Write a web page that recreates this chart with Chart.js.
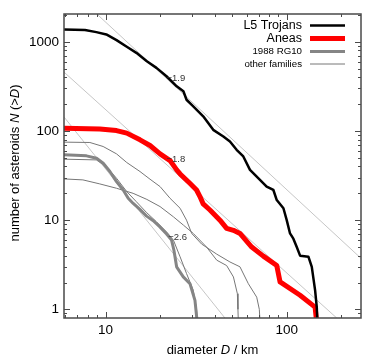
<!DOCTYPE html>
<html>
<head>
<meta charset="utf-8">
<script src="https://cdn.jsdelivr.net/npm/chart.js@4/dist/chart.umd.min.js"></script>
<style>
  html, body { margin: 0; padding: 0; background: #fff; }
  #wrap { width: 382px; height: 356px; }
</style>
</head>
<body>
<div id="wrap"><canvas id="sfdChart" width="382" height="356"></canvas></div>
<script>
// cumulative size distributions N(>D), diameters in km
const l5Diam = [5.9, 7.7, 8.9, 10.1, 11.5, 13.1, 14.8, 16.9, 19.1, 21.7, 24.7, 26.9, 28.0, 30.5, 34.6, 39.3, 44.7, 48.6, 52.9, 57.6, 62.7, 68.3, 77.5, 84.4, 88.1, 95.9, 100, 104.3, 108.8, 113.6, 118.5, 131.7, 137.5, 143.4, 146.5, 147.7];
const l5Count = [1377, 1353, 1284, 1210, 1044, 879, 752, 606, 510, 411, 317, 279, 224, 189, 146, 103, 86.8, 76.3, 61.5, 51.8, 36.6, 30.8, 23.8, 21.8, 16.8, 13.6, 10, 7.1, 6.2, 5.0, 4.0, 3.9, 3.0, 1.64, 1.06, 0.7];

const aneasDiam = [5.9, 9.3, 11.5, 13.1, 15.5, 17.6, 20.0, 22.7, 24.7, 25.8, 29.2, 31.8, 33.2, 34.6, 37.7, 42.8, 46.6, 50.8, 55.2, 64.1, 74.3, 88.1, 91.9, 118.5, 143.4, 146.5];
const aneasCount = [107, 105, 101, 94.6, 79.6, 68.8, 55.4, 46.6, 36.6, 33.0, 25.9, 21.8, 18.4, 15.2, 13.0, 10.0, 8.1, 7.7, 7.1, 5.0, 3.95, 3.1, 2.03, 1.44, 1.06, 0.7];

const rgDiam = [5.9, 7.85, 8.92, 9.71, 10.57, 11.5, 12.52, 13.34, 14.22, 15.48, 16.85, 18.34, 19.96, 21.73, 23.15, 23.85, 24.68, 26.86, 29.24, 31.16, 32.1];
const rgCount = [54.0, 52.6, 49.5, 43.5, 35.1, 27.1, 21.8, 17.6, 15.4, 13.2, 11.1, 9.85, 8.4, 7.0, 5.97, 4.6, 3.0, 2.31, 1.94, 1.26, 0.7];

const famADiam = [5.9, 8.2, 9.7, 11.5, 13.1, 15.5, 17.6, 20.0, 22.7, 25.8, 28.0, 29.9, 33.9, 41.1, 48.6, 55.2, 61.4, 68.3, 70.6, 71.3];
const famACount = [75, 74.3, 67, 55.4, 44.3, 35.1, 28.8, 23.8, 17.6, 13.6, 10.0, 7.1, 5.4, 4.16, 3.4, 3.0, 1.94, 1.37, 1.0, 0.7];
const famBDiam = [5.9, 8.9, 10.1, 11.5, 13.1, 14.8, 16.9, 19.1, 21.7, 23.7, 25.8, 28.0, 30.5, 31.8, 32.1];
const famBCount = [48.3, 47.4, 39.9, 29.5, 20.9, 16.1, 12.1, 9.6, 7.4, 5.97, 3.88, 2.52, 1.64, 1.0, 0.7];
const famCDiam = [5.9, 7.5, 9.3, 11.5, 14.2, 16.9, 20.0, 23.7, 26.9, 30.5, 36.1, 41.1, 46.6, 50.8, 53.4, 53.8, 54.1];
const famCCount = [29, 28.3, 25.5, 22.8, 20.0, 17.1, 14.2, 10.9, 8.8, 7.1, 5.0, 3.56, 3.1, 2.31, 1.5, 1.0, 0.7];

// power-law reference lines (end points) and their slope labels
const fit19Diam = [8.92, 257.5], fit19Count = [2065, 3.72];
const fit18Diam = [5.91, 188.8], fit18Count = [456, 0.8];
const fit26Diam = [5.91, 45.6], fit26Count = [143, 0.8];
const slopeLabels = ['\u22121.9', '\u22121.8', '\u22122.6'];
const slopeLabelDiam = [21.7, 21.7, 22.2];
const slopeLabelCount = [394, 47.5, 6.35];

// axes
const xMin = 5.9, xMax = 257;
const yMin = 0.8, yMax = 2050;
const xTickLabels = [10, 100];
const xMinorTicks = [6, 7, 8, 9, 20, 30, 40, 50, 60, 70, 80, 90, 200];
const yTickLabels = [1, 10, 100, 1000];
const yMinorTicks = [0.9, 2, 3, 4, 5, 6, 7, 8, 9, 20, 30, 40, 50, 60, 70, 80, 90, 200, 300, 400, 500, 600, 700, 800, 900, 2000];

const FONT = "'Liberation Sans', Arial, sans-serif";
Chart.defaults.font.family = FONT;
Chart.defaults.color = '#000';

function pts(d, n) {
    return d.map((v, i) => ({ x: v, y: n[i] }));
}

function line(label, d, n, color, width, inLegend) {
    return {
        label: label,
        data: pts(d, n),
        showLine: true,
        borderColor: color,
        borderWidth: width,
        pointRadius: 0,
        tension: 0,
        borderJoinStyle: 'round',
        clip: 0,
        inLegend: inLegend
    };
}

// draws text made of plain and italic pieces, centred on the origin
function richText(ctx, parts, size) {
    let total = 0;
    const widths = parts.map(p => {
        ctx.font = (p[1] ? 'italic ' : '') + size + 'px ' + FONT;
        const w = ctx.measureText(p[0]).width;
        total += w;
        return w;
    });
    let cx = -total / 2;
    parts.forEach((p, i) => {
        ctx.font = (p[1] ? 'italic ' : '') + size + 'px ' + FONT;
        ctx.fillText(p[0], cx, 0);
        cx += widths[i];
    });
}

const frameAndLabels = {
    id: 'frameAndLabels',
    afterDraw(chart) {
        const ctx = chart.ctx;
        const a = chart.chartArea;
        const xs = chart.scales.x, ys = chart.scales.y;
        ctx.save();

        // border
        ctx.strokeStyle = '#4a4a4a';
        ctx.lineWidth = 1.5;
        ctx.strokeRect(a.left, a.top, a.right - a.left, a.bottom - a.top);

        // inward tick marks on all four sides
        ctx.lineWidth = 1;
        ctx.beginPath();
        const xt = (v, len) => {
            const px = Math.round(xs.getPixelForValue(v)) + 0.5;
            ctx.moveTo(px, a.bottom); ctx.lineTo(px, a.bottom - len);
            ctx.moveTo(px, a.top); ctx.lineTo(px, a.top + len);
        };
        const yt = (v, len) => {
            const py = Math.round(ys.getPixelForValue(v)) + 0.5;
            ctx.moveTo(a.left, py); ctx.lineTo(a.left + len, py);
            ctx.moveTo(a.right, py); ctx.lineTo(a.right - len, py);
        };
        xTickLabels.forEach(v => xt(v, 6));
        xMinorTicks.forEach(v => xt(v, 3));
        yTickLabels.forEach(v => yt(v, 6));
        yMinorTicks.forEach(v => yt(v, 3));
        ctx.stroke();

        // slope labels next to the power-law lines
        ctx.fillStyle = '#333';
        ctx.font = '9.5px ' + FONT;
        ctx.textAlign = 'left';
        ctx.textBaseline = 'middle';
        slopeLabels.forEach((t, i) => {
            ctx.fillText(t, xs.getPixelForValue(slopeLabelDiam[i]), ys.getPixelForValue(slopeLabelCount[i]));
        });

        // legend, top right inside the frame
        const rows = chart.data.datasets.filter(ds => ds.inLegend);
        const rowY = [11.5, 24.5, 37.5, 50];
        const rowSize = [12.5, 12.5, 9.7, 9.7];
        ctx.textAlign = 'right';
        rows.forEach((ds, i) => {
            const y = a.top + rowY[i];
            ctx.fillStyle = '#000';
            ctx.font = rowSize[i] + 'px ' + FONT;
            ctx.fillText(ds.label, a.right - 59, y);
            ctx.strokeStyle = ds.borderColor;
            ctx.lineWidth = ds.borderWidth;
            ctx.beginPath();
            ctx.moveTo(a.right - 51, y);
            ctx.lineTo(a.right - 16, y);
            ctx.stroke();
        });

        // axis titles with italic symbols
        ctx.fillStyle = '#000';
        ctx.textAlign = 'left';
        ctx.textBaseline = 'middle';
        ctx.save();
        ctx.translate((a.left + a.right) / 2, a.bottom + 32);
        richText(ctx, [['diameter ', false], ['D', true], [' / km', false]], 13);
        ctx.restore();
        ctx.save();
        ctx.translate(15, (a.top + a.bottom) / 2 - 3);
        ctx.rotate(-Math.PI / 2);
        richText(ctx, [['number of asteroids ', false], ['N', true], [' (>', false], ['D', true], [')', false]], 13);
        ctx.restore();

        ctx.restore();
    }
};

const ctx = document.getElementById('sfdChart').getContext('2d');
const chart = new Chart(ctx, {
    type: 'scatter',
    data: {
        datasets: [
            line('L5 Trojans', l5Diam, l5Count, '#000000', 2.5, true),
            line('Aneas', aneasDiam, aneasCount, '#ff0000', 5, true),
            line('1988 RG10', rgDiam, rgCount, '#858585', 3, true),
            line('other families', famADiam, famACount, '#777777', 1, true),
            line('', famBDiam, famBCount, '#777777', 1, false),
            line('', famCDiam, famCCount, '#777777', 1, false),
            line('', fit19Diam, fit19Count, '#c6c6c6', 1, false),
            line('', fit18Diam, fit18Count, '#c6c6c6', 1, false),
            line('', fit26Diam, fit26Count, '#c6c6c6', 1, false)
        ]
    },
    options: {
        responsive: false,
        animation: false,
        events: [],
        layout: { padding: { left: 0, right: 21, top: 14, bottom: 0 } },
        plugins: {
            legend: { display: false },
            tooltip: { enabled: false }
        },
        scales: {
            x: {
                type: 'logarithmic',
                min: xMin,
                max: xMax,
                bounds: 'data',
                grid: { display: false, drawTicks: false },
                border: { display: false },
                ticks: {
                    font: { size: 13.5 },
                    padding: 4,
                    maxRotation: 0,
                    autoSkip: false,
                    callback: v => String(v)
                },
                afterBuildTicks: s => { s.ticks = xTickLabels.map(v => ({ value: v })); },
                afterFit: s => { s.height = 38; }
            },
            y: {
                type: 'logarithmic',
                min: yMin,
                max: yMax,
                bounds: 'data',
                grid: { display: false, drawTicks: false },
                border: { display: false },
                ticks: {
                    font: { size: 13.5 },
                    padding: 5,
                    autoSkip: false,
                    callback: v => String(v)
                },
                afterBuildTicks: s => { s.ticks = yTickLabels.map(v => ({ value: v })); },
                afterFit: s => { s.width = 64; }
            }
        }
    },
    plugins: [frameAndLabels]
});
</script>
</body>
</html>
